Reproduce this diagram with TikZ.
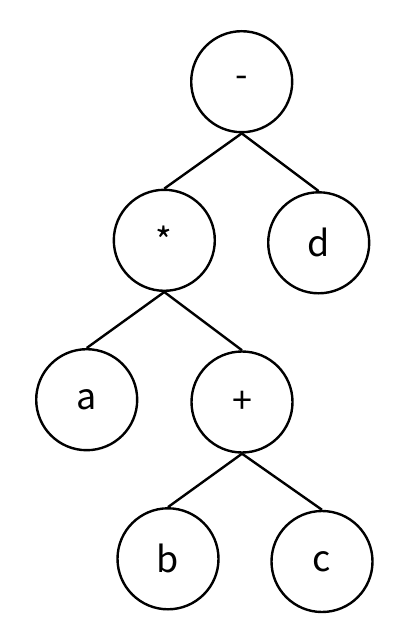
\documentclass[tikz,border=0pt]{standalone}
\usepackage{fontspec}
\setmainfont{Noto Sans CJK SC}
\begin{document}
\begin{tikzpicture}[x=1bp,y=-1bp,
  treenode/.style={circle,draw,line width=2.4bp,minimum size=101bp,inner sep=0pt,font=\fontsize{36}{42}\selectfont},
  edge/.style={line width=2.4bp}]
\useasboundingbox (0,0) rectangle (400,636);
\node[treenode] (minus) at (241.7,81.7) {\raisebox{-2bp}{-}};
\node[treenode] (times) at (164.3,240.3) {\raisebox{-7bp}{*}};
\node[treenode] (d) at (318.7,242.8) {d};
\node[treenode] (a) at (86.7,399.7) {a};
\node[treenode] (plus) at (242,402) {+};
\node[treenode] (b) at (168,558.8) {b};
\node[treenode] (c) at (322,561.5) {c};
\draw[edge] (minus.south) -- (times.north);
\draw[edge] (minus.south) -- (d.north);
\draw[edge] (times.south) -- (a.north);
\draw[edge] (times.south) -- (plus.north);
\draw[edge] (plus.south) -- (b.north);
\draw[edge] (plus.south) -- (c.north);
\end{tikzpicture}
\end{document}
